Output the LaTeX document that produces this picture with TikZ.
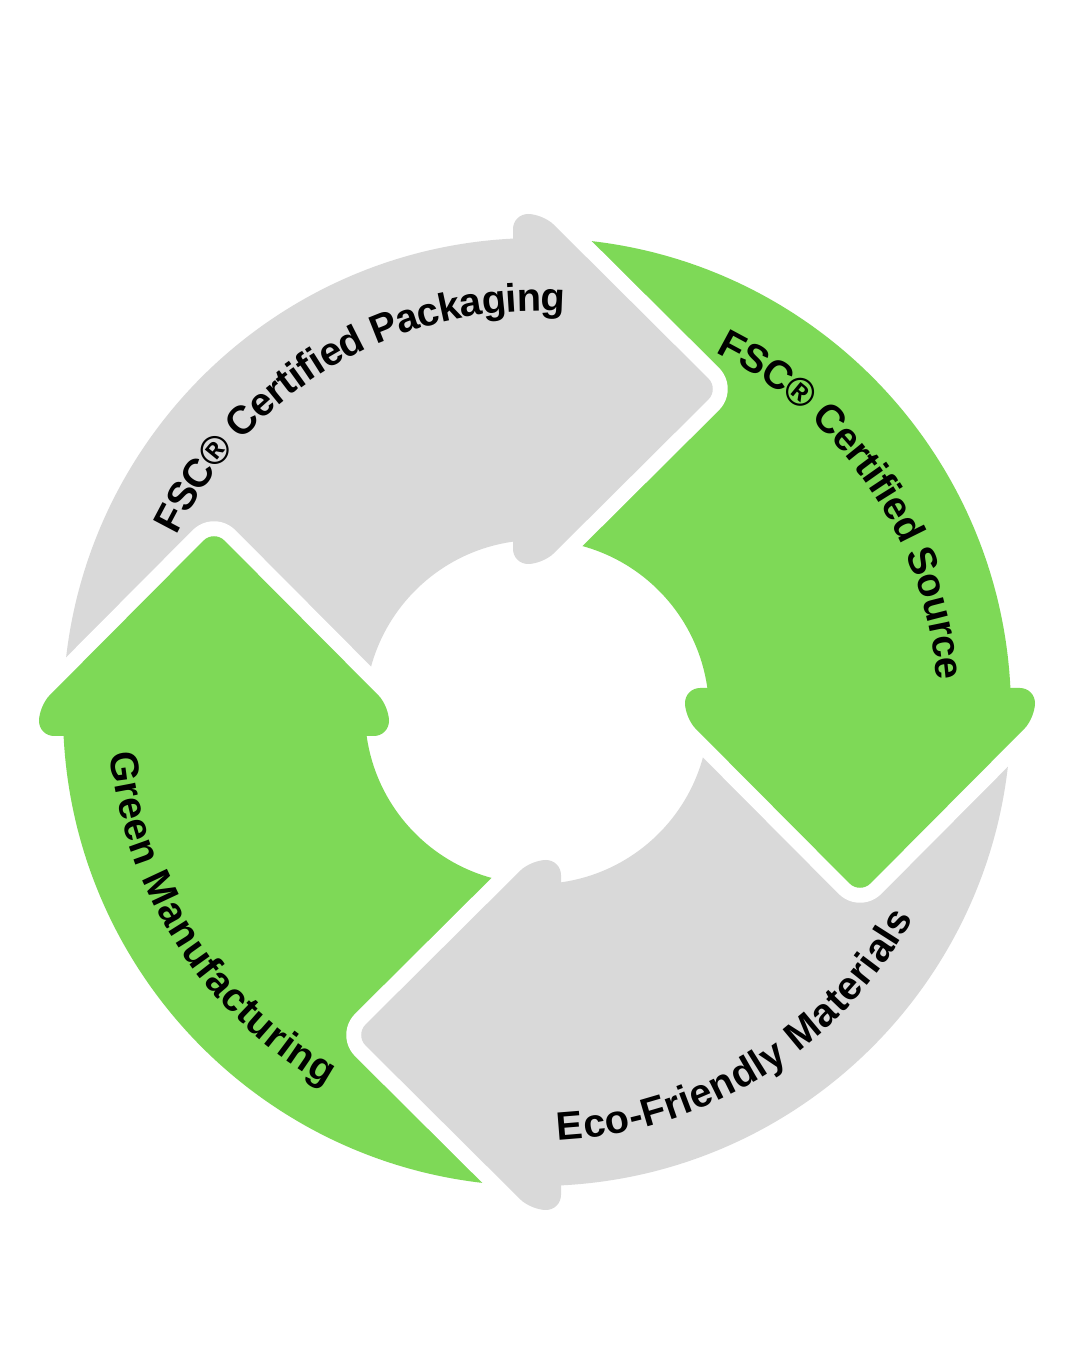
\documentclass[tikz,border=0pt]{standalone}
\usepackage{fontspec}
\setmainfont{Liberation Sans}
\usetikzlibrary{decorations.text}
\definecolor{leaf}{HTML}{7ED957}
\definecolor{stone}{HTML}{D9D9D9}
\newcommand\lblfont{\fontsize{11.3}{13}\selectfont\bfseries}
\tikzset{
  halo/.style={draw=white, fill=white, line width=0.3cm, line join=round, rounded corners=0.15cm},
  head/.style={fill=#1, rounded corners=0.15cm},
  curvedlabel/.style={decorate, decoration={text along path, text={|\lblfont|#1}, text align=center, raise=-0.14cm}}
}
\begin{document}
\begin{tikzpicture}[x=0.01cm,y=0.01cm]
\useasboundingbox (0,0) rectangle (1080,1350);
\fill[white] (0,0) rectangle (1080,1350);
\begin{scope}[shift={(537,638)}]
  \coordinate (C) at (0,0);
  % ring bodies
  \foreach \a/\b/\c in {180/90/stone, 90/0/leaf, 0/-90/stone, -90/-180/leaf}{
    \fill[\c] (\a:474) arc[start angle=\a, end angle=\b, radius=474]
      -- (\b:172) arc[start angle=\b, end angle=\a, radius=172] -- cycle;
  }
  % arrow heads
  \foreach \p/\c in {90/stone, 0/leaf, -90/stone, 180/leaf}{
    \begin{scope}[rotate=\p-90]
      \begin{scope}
        \clip (0,60) rectangle (260,600);
        \path[halo] (-24,148) -- (-24,498) -- (6,498) -- (182,323) -- (6,148) -- cycle;
      \end{scope}
      \path[head=\c] (-24,148) -- (-24,498) -- (6,498) -- (182,323) -- (6,148) -- cycle;
    \end{scope}
  }
  % labels
  \path[curvedlabel={FSC® Certified Packaging}] (180:415) arc[start angle=180, end angle=60, radius=415];
  \path[curvedlabel={FSC® Certified Source}] (94:415) arc[start angle=94, end angle=-26, radius=415];
  \path[curvedlabel={Eco-Friendly Materials}] (-118:415) arc[start angle=-118, end angle=2, radius=415];
  \path[curvedlabel={Green Manufacturing}] (153:415) arc[start angle=153, end angle=273, radius=415];
\end{scope}
\end{tikzpicture}
\end{document}
